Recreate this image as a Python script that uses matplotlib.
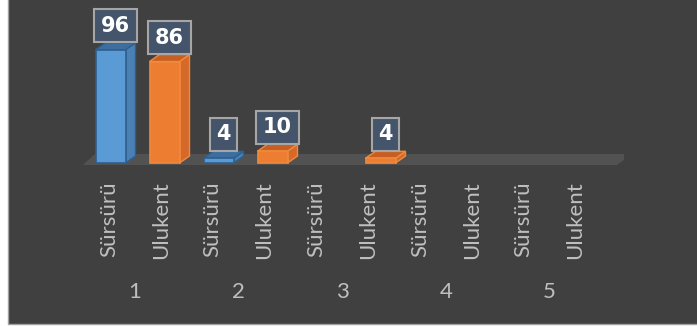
import numpy as np
import matplotlib
matplotlib.use('Agg')
import matplotlib.pyplot as plt
from matplotlib.patches import Polygon, Rectangle

# bar data: two sites per group, five groups
groups = ['1', '2', '3', '4', '5']
sites = ['Sürsürü', 'Ulukent']
surs_vals = [96, 4, 0, 0, 0]
ulukent_vals = [86, 10, 4, 0, 0]

# colours for each site: front, side, top, edge
palette = {
    'Sürsürü': ('#5b9bd5', '#4a80b3', '#3c6e9f', '#2f5f8e'),
    'Ulukent': ('#ed7d31', '#d4692a', '#c85f22', '#f08a3e'),
}

bg = '#404040'
text_col = '#bfbfbf'

# interleave the series into one row of ten bars
values = []
labels = []
for s, u in zip(surs_vals, ulukent_vals):
    values += [s, u]
    labels += sites
x = np.arange(len(values))

W, H = 697, 326
fig = plt.figure(figsize=(W / 100, H / 100), dpi=100, facecolor='white')

# chart area with its thin border
fig.patches.append(Rectangle((8 / W, 2 / H), 1, 1, transform=fig.transFigure,
                             facecolor=bg, edgecolor='#a0a0a0', linewidth=1.0,
                             zorder=-5))

# axes placed so that 1 category = 54 px and 1 unit = 1.18 px
px_cat = 54.0
px_unit = 1.18
ylo, yhi = -5, 130
left = 83.5
zero_y = 163.0
ax = fig.add_axes([left / W, (H - (zero_y - ylo * px_unit)) / H,
                   len(values) * px_cat / W, (yhi - ylo) * px_unit / H])
ax.set_xlim(-0.5, len(values) - 0.5)
ax.set_ylim(ylo, yhi)
ax.axis('off')
ax.patch.set_alpha(0)

bar_w = 30 / px_cat
dx = 10 / px_cat
dy = 7 / px_unit

# floor slab under the bars
fl_lo, fl_hi = -2 / px_unit, 9 / px_unit
xa, xb = -0.5, len(values) - 0.5
floor = Polygon([(xa - 0.01, fl_lo), (xb - 0.12, fl_lo),
                 (xb + 0.16, fl_hi), (xa + 0.21, fl_hi)],
                closed=True, facecolor='#525252', edgecolor='none', zorder=1)
ax.add_patch(floor)

for xi, v, lab in zip(x, values, labels):
    if v == 0:
        continue
    front, side, top, edge = palette[lab]
    x0, x1 = xi - bar_w / 2, xi + bar_w / 2
    ax.bar(xi, v, width=bar_w, color=front, edgecolor=edge, linewidth=1.2, zorder=3)
    ax.add_patch(Polygon([(x1, 0), (x1 + dx, dy), (x1 + dx, v + dy), (x1, v)],
                         closed=True, facecolor=side, edgecolor=edge, linewidth=1.0, zorder=2))
    ax.add_patch(Polygon([(x0, v), (x1, v), (x1 + dx, v + dy), (x0 + dx, v + dy)],
                         closed=True, facecolor=top, edgecolor=edge, linewidth=1.0, zorder=2))
    ax.annotate(str(v), (xi + dx / 2, v + dy), xytext=(0, 7), textcoords='offset pixels',
                ha='center', va='bottom', color='white', fontsize=15, fontweight='bold',
                family='DejaVu Sans', zorder=5,
                bbox=dict(boxstyle='square,pad=0.32', facecolor='#44546a',
                          edgecolor='#a6a6a6', linewidth=1.5))

# category labels, squeezed slightly relative to the bars
lab_x = x * 0.96 - 0.03
lab_y = ylo - (181 - (zero_y - ylo * px_unit)) / px_unit
for lx, lab in zip(lab_x, labels):
    ax.text(lx, lab_y, lab, rotation=90, ha='center', va='top', color=text_col,
            fontsize=16, family='Lato', clip_on=False)

grp_y = ylo - (292 - (zero_y - ylo * px_unit)) / px_unit
for i, g in enumerate(groups):
    gx = (lab_x[2 * i] + lab_x[2 * i + 1]) / 2
    ax.text(gx, grp_y, g, ha='center', va='center', color=text_col,
            fontsize=16, family='Lato', clip_on=False)

fig.savefig('out.png', dpi=100, facecolor='white')
